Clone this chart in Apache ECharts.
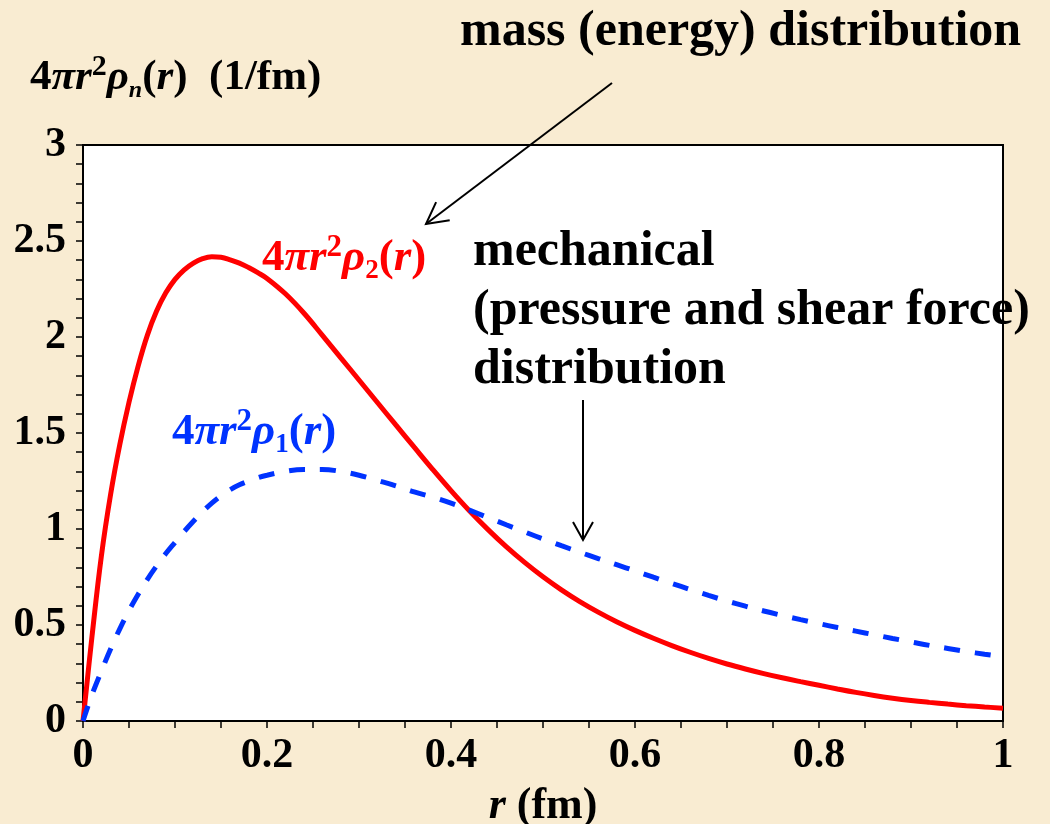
<!DOCTYPE html>
<html>
<head>
<meta charset="utf-8">
<script src="https://cdn.jsdelivr.net/npm/echarts@6/dist/echarts.min.js"></script>
<style>
html,body{margin:0;padding:0;background:#f9ecd2;}
#chart{width:1050px;height:824px;}
</style>
</head>
<body>
<div id="chart"></div>
<script>
// r values (fm)
var rVals = [0,0.01,0.02,0.03,0.04,0.05,0.06,0.07,0.08,0.09,0.10,0.11,0.12,0.13,0.14,0.15,0.16,0.17,0.18,0.19,0.20,0.22,0.24,0.26,0.28,0.30,0.32,0.34,0.36,0.38,0.40,0.42,0.44,0.46,0.48,0.50,0.52,0.54,0.56,0.58,0.60,0.62,0.64,0.66,0.68,0.70,0.72,0.74,0.76,0.78,0.80,0.82,0.84,0.86,0.88,0.90,0.92,0.94,0.96,0.98,1.00];
// 4 pi r^2 rho_2(r) : mass (energy) distribution (red, solid)
var rho2 = [0,0.45,0.86,1.18,1.44,1.66,1.85,2.01,2.135,2.23,2.30,2.35,2.385,2.408,2.418,2.415,2.402,2.385,2.362,2.335,2.305,2.225,2.125,2.01,1.893,1.776,1.659,1.542,1.426,1.311,1.20,1.095,0.998,0.908,0.826,0.751,0.683,0.622,0.567,0.517,0.472,0.431,0.393,0.358,0.326,0.297,0.271,0.247,0.225,0.205,0.186,0.167,0.149,0.133,0.119,0.107,0.097,0.088,0.080,0.073,0.067];
// 4 pi r^2 rho_1(r) : mechanical distribution (blue, dashed)
var rho1 = [0,0.14,0.26,0.375,0.48,0.575,0.66,0.738,0.808,0.872,0.93,0.987,1.04,1.09,1.135,1.173,1.205,1.23,1.25,1.267,1.28,1.30,1.31,1.31,1.30,1.28,1.253,1.225,1.193,1.166,1.135,1.098,1.06,1.022,0.985,0.948,0.913,0.879,0.846,0.814,0.782,0.749,0.717,0.685,0.654,0.625,0.598,0.573,0.55,0.528,0.507,0.487,0.468,0.449,0.43,0.412,0.394,0.378,0.362,0.348,0.335];
var xTicks = ['0','0.2','0.4','0.6','0.8','1'];
var yTicks = ['0','0.5','1','1.5','2','2.5','3'];

function zip(xs, ys){ return xs.map(function(x,i){ return [x, ys[i]]; }); }

var FONT = '"Liberation Serif", "Times New Roman", serif';
function rich(size, color){
  var s = Math.round(size*0.7), b = Math.round(size*0.6);
  return {
    n:{fontFamily:FONT,fontWeight:'bold',fontSize:size,color:color,fill:color,lineHeight:size+8},
    i:{fontFamily:FONT,fontWeight:'bold',fontStyle:'italic',fontSize:size,color:color,fill:color,lineHeight:size+8},
    sup:{fontFamily:FONT,fontWeight:'bold',fontSize:s,color:color,fill:color,lineHeight:s,verticalAlign:'top'},
    sub:{fontFamily:FONT,fontWeight:'bold',fontSize:b,color:color,fill:color,lineHeight:b,verticalAlign:'bottom'},
    subi:{fontFamily:FONT,fontWeight:'bold',fontStyle:'italic',fontSize:Math.round(size*0.55),color:color,fill:color,lineHeight:Math.round(size*0.55),verticalAlign:'bottom'}
  };
}

var chart = echarts.init(document.getElementById('chart'), null, {renderer:'canvas'});
var option = {
  backgroundColor:'#f9ecd2',
  animation:false,
  grid:{left:83,right:47,top:145,bottom:103,containLabel:false,outerBoundsMode:'none',show:true,backgroundColor:'#ffffff',borderColor:'#000',borderWidth:2},
  xAxis:{
    type:'value',min:0,max:1,interval:0.2,
    axisLine:{show:true,lineStyle:{color:'#000',width:2}},
    axisTick:{show:true,length:7,lineStyle:{color:'#000',width:1.5}},
    minorTick:{show:true,splitNumber:4,length:7,lineStyle:{color:'#000',width:1.5}},
    splitLine:{show:false},
    axisLabel:{margin:14,fontFamily:FONT,fontWeight:'bold',fontSize:42,color:'#000',
      formatter:function(v){ return xTicks[Math.round(v/0.2)]; }},
    name:'{i|r}{n| (fm)}',nameLocation:'middle',nameGap:60,
    nameTextStyle:{rich:rich(44,'#000')}
  },
  yAxis:{
    type:'value',min:0,max:3,interval:0.5,
    axisLine:{show:true,lineStyle:{color:'#000',width:2}},
    axisTick:{show:true,length:7,lineStyle:{color:'#000',width:1.5}},
    minorTick:{show:true,splitNumber:5,length:7,lineStyle:{color:'#000',width:1.5}},
    splitLine:{show:false},
    axisLabel:{margin:17,fontFamily:FONT,fontWeight:'bold',fontSize:42,color:'#000',
      formatter:function(v){ return yTicks[Math.round(v/0.5)]; }}
  },
  series:[
    {type:'line',name:'rho2',data:zip(rVals,rho2),showSymbol:false,smooth:0.4,
      lineStyle:{color:'#ff0000',width:5},z:2},
    {type:'line',name:'rho1',data:zip(rVals,rho1),showSymbol:false,smooth:0.4,
      lineStyle:{color:'#0033ff',width:5,type:[16,15]},z:3}
  ],
  graphic:[
    {type:'text',x:30,y:52,style:{text:'{n|4}{i|πr}{sup|2}{i|ρ}{subi|n}{n|(}{i|r}{n|)  (1/fm)}',rich:rich(43,'#000')}},
    {type:'text',x:460,y:32,style:{text:'mass (energy) distribution',font:'bold 50px '+FONT,fill:'#000',textVerticalAlign:'middle'}},
    {type:'text',x:473,y:252,style:{text:'mechanical',font:'bold 50px '+FONT,fill:'#000',textVerticalAlign:'middle'}},
    {type:'text',x:473,y:311,style:{text:'(pressure and shear force)',font:'bold 50px '+FONT,fill:'#000',textVerticalAlign:'middle'}},
    {type:'text',x:473,y:370,style:{text:'distribution',font:'bold 50px '+FONT,fill:'#000',textVerticalAlign:'middle'}},
    {type:'text',x:262,y:232,z:10,style:{text:'{n|4}{i|πr}{sup|2}{i|ρ}{sub|2}{n|(}{i|r}{n|)}',rich:rich(45,'#ff0000')}},
    {type:'text',x:172,y:406,z:10,style:{text:'{n|4}{i|πr}{sup|2}{i|ρ}{sub|1}{n|(}{i|r}{n|)}',rich:rich(45,'#0033ff')}},
    {type:'line',z:10,shape:{x1:612,y1:83,x2:426,y2:224},style:{stroke:'#000',lineWidth:2}},
    {type:'polyline',z:10,shape:{points:[[449.7,220.2],[426,224],[436.1,202.2]]},style:{stroke:'#000',lineWidth:2,fill:null}},
    {type:'line',z:10,shape:{x1:583,y1:400,x2:583,y2:540},style:{stroke:'#000',lineWidth:2}},
    {type:'polyline',z:10,shape:{points:[[573,522],[583,540],[593,522]]},style:{stroke:'#000',lineWidth:2,fill:null}}
  ]
};
chart.setOption(option);
</script>
</body>
</html>
